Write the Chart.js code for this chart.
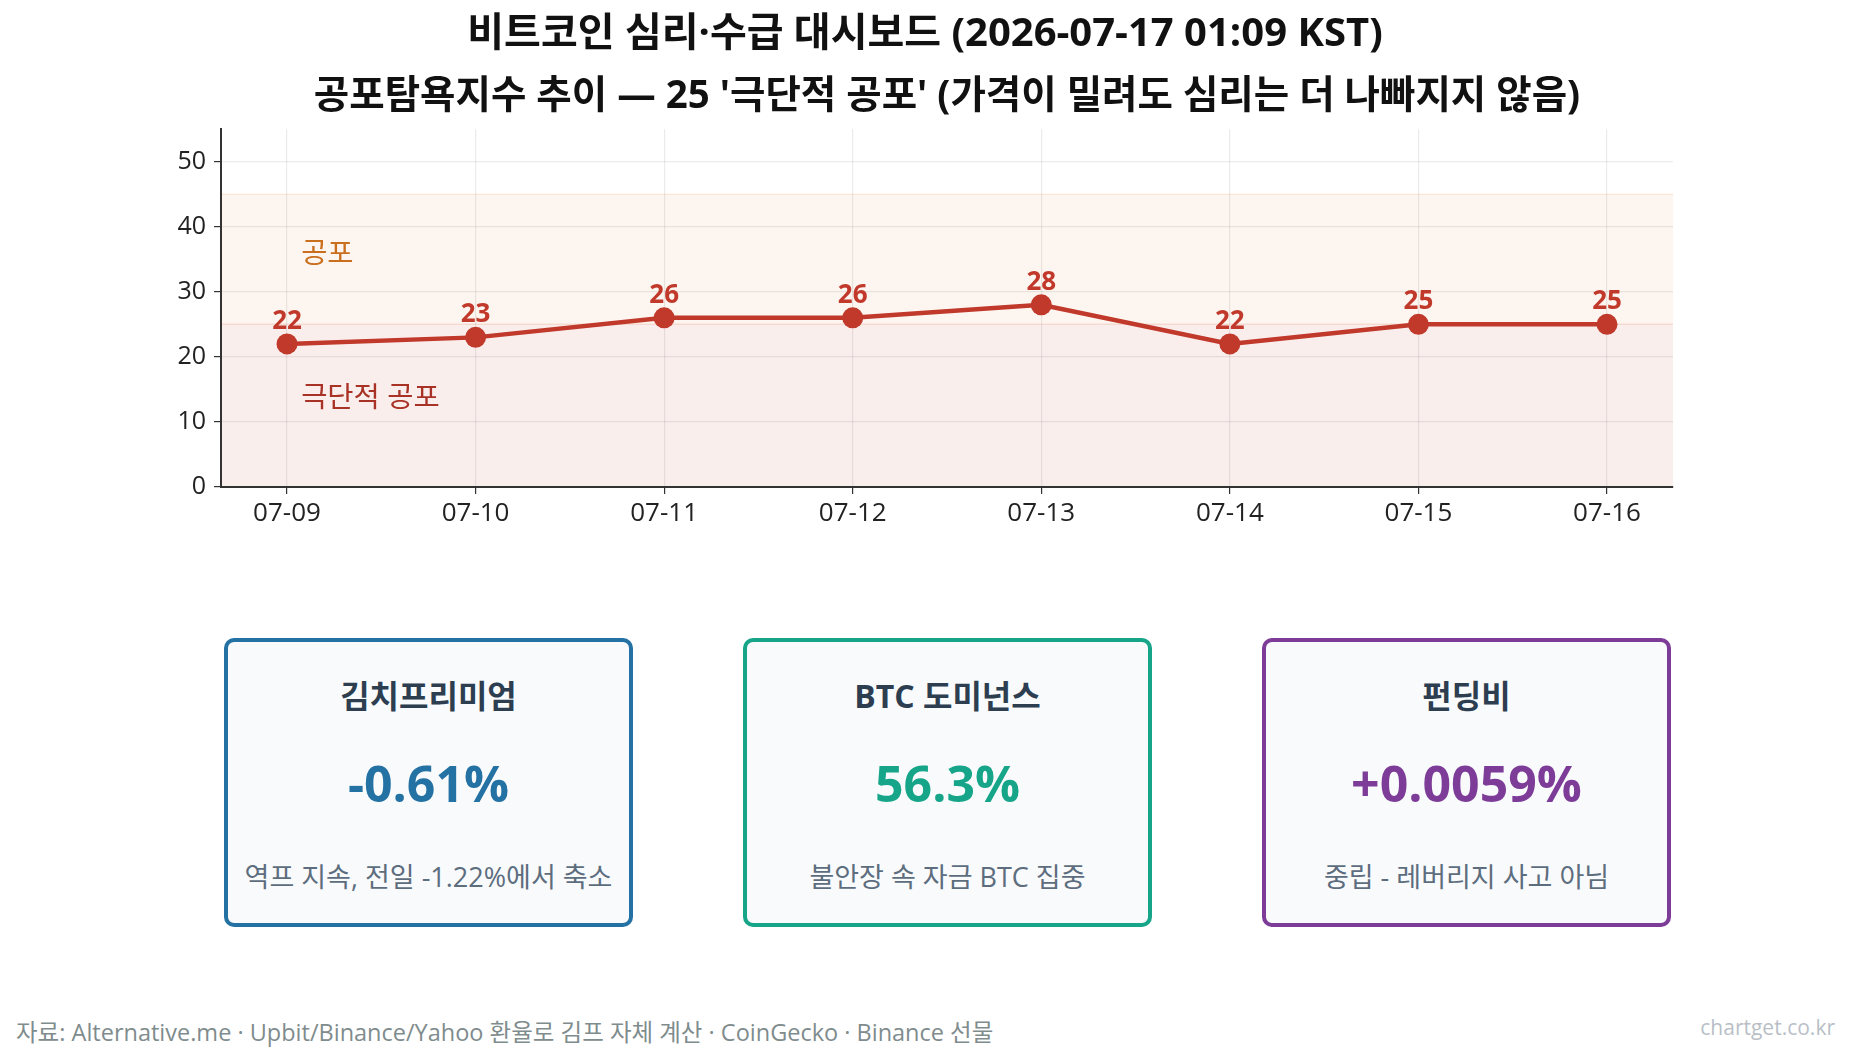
<!DOCTYPE html>
<html lang="ko">
<head>
<meta charset="utf-8">
<script src="https://cdn.jsdelivr.net/npm/chart.js@4.4.1/dist/chart.umd.min.js"></script>
<style>
    body {
        margin: 0;
        width: 1850px;
        height: 1061px;
        background: #fff;
        position: relative;
        overflow: hidden;
        font-family: 'Open Sans', 'Noto Sans CJK KR', sans-serif;
    }
    #chartWrap { position: absolute; left: 0; top: 0; width: 1850px; height: 540px; }
    .card {
        position: absolute;
        top: 638px;
        width: 409px;
        height: 289px;
        box-sizing: border-box;
        border: 4px solid;
        border-radius: 10px;
        background: #f8fafc;
        text-align: center;
    }
    .card div { position: absolute; left: 0; right: 0; white-space: nowrap; }
    .card .name { top: 34px; line-height: 40px; font-size: 32px; font-weight: bold; color: #2c3e50; }
    .card .value { top: 111px; line-height: 60px; font-size: 50px; font-weight: bold; }
    .card .note { top: 219px; line-height: 32px; font-size: 27px; color: #5d6d7e; }
    #source { position: absolute; left: 16px; top: 1016px; line-height: 32px; font-size: 23.5px; color: #7f8c8d; white-space: nowrap; }
    #brand { position: absolute; right: 15px; top: 1012px; line-height: 30px; font-size: 21px; color: #b9bfc7; }
</style>
</head>
<body>
<div id="chartWrap"><canvas id="fgiChart" width="1850" height="540"></canvas></div>

<div class="card" style="left:224px;border-color:#2471a3">
    <div class="name">김치프리미엄</div>
    <div class="value" style="color:#2471a3">-0.61%</div>
    <div class="note">역프 지속, 전일 -1.22%에서 축소</div>
</div>
<div class="card" style="left:743px;border-color:#17a589">
    <div class="name">BTC 도미넌스</div>
    <div class="value" style="color:#17a589">56.3%</div>
    <div class="note">불안장 속 자금 BTC 집중</div>
</div>
<div class="card" style="left:1262px;border-color:#7d3c98">
    <div class="name">펀딩비</div>
    <div class="value" style="color:#7d3c98">+0.0059%</div>
    <div class="note">중립 - 레버리지 사고 아님</div>
</div>

<div id="source">자료: Alternative.me · Upbit/Binance/Yahoo 환율로 김프 자체 계산 · CoinGecko · Binance 선물</div>
<div id="brand">chartget.co.kr</div>

<script>
// 데이터
const dateLabels = ['07-09', '07-10', '07-11', '07-12', '07-13', '07-14', '07-15', '07-16'];
const fgiValues = [22, 23, 26, 26, 28, 22, 25, 25];
const yTickValues = [0, 10, 20, 30, 40, 50];
const extremeFearRange = [0, 25];
const fearRange = [25, 45];

const FONT = "'Open Sans', 'Noto Sans CJK KR', sans-serif";
Chart.defaults.font.family = FONT;

// 구간 배경 + 구간 이름
const zonePlugin = {
    id: 'zones',
    beforeDraw(chart) {
        const { ctx, chartArea: a, scales: { y } } = chart;
        ctx.save();
        var y0 = y.getPixelForValue(extremeFearRange[0]);
        var y25 = y.getPixelForValue(extremeFearRange[1]);
        var y45 = y.getPixelForValue(fearRange[1]);
        ctx.fillStyle = 'rgba(192, 57, 43, 0.085)';
        ctx.fillRect(a.left, y25, a.width, y0 - y25);
        ctx.fillStyle = 'rgba(230, 126, 34, 0.075)';
        ctx.fillRect(a.left, y45, a.width, y25 - y45);
        ctx.lineWidth = 1.5;
        ctx.strokeStyle = 'rgba(230, 126, 34, 0.12)';
        ctx.beginPath(); ctx.moveTo(a.left, y45); ctx.lineTo(a.right, y45); ctx.stroke();
        ctx.strokeStyle = 'rgba(210, 90, 40, 0.15)';
        ctx.beginPath(); ctx.moveTo(a.left, y25); ctx.lineTo(a.right, y25); ctx.stroke();
        ctx.restore();
    },
    beforeDatasetsDraw(chart) {
        const { ctx, scales: { x, y } } = chart;
        ctx.save();
        ctx.font = '28.5px ' + FONT;
        ctx.textAlign = 'left';
        ctx.textBaseline = 'middle';
        ctx.fillStyle = '#ca6f1e';
        ctx.fillText('공포', x.getPixelForValue(0.075), y.getPixelForValue(35.7));
        ctx.fillStyle = '#a93226';
        ctx.fillText('극단적 공포', x.getPixelForValue(0.075), y.getPixelForValue(13.5));
        ctx.restore();
    }
};

// 점 위 값 표시
const valueLabelPlugin = {
    id: 'valueLabels',
    afterDatasetsDraw(chart) {
        const ctx = chart.ctx;
        const meta = chart.getDatasetMeta(0);
        ctx.save();
        ctx.font = 'bold 26px ' + FONT;
        ctx.fillStyle = '#c0392b';
        ctx.textAlign = 'center';
        ctx.textBaseline = 'alphabetic';
        meta.data.forEach(function (pt, i) {
            ctx.fillText(String(fgiValues[i]), pt.x, pt.y - 15);
        });
        ctx.restore();
    }
};

const gridCfg = {
    color: 'rgba(0, 0, 0, 0.08)',
    lineWidth: 1.2,
    tickColor: '#333',
    tickLength: 7
};

new Chart(document.getElementById('fgiChart').getContext('2d'), {
    type: 'line',
    data: {
        datasets: [{
            label: '공포탐욕지수',
            data: fgiValues.map(function (v, i) { return { x: i, y: v }; }),
            borderColor: '#c0392b',
            backgroundColor: '#c0392b',
            borderWidth: 4.5,
            tension: 0,
            pointRadius: 10.5,
            pointBorderWidth: 0,
            pointBackgroundColor: '#c0392b',
            clip: false
        }]
    },
    options: {
        responsive: false,
        animation: false,
        layout: { padding: { left: 177, right: 177, top: 0, bottom: 0 } },
        plugins: {
            legend: { display: false },
            tooltip: { enabled: false },
            title: {
                display: true,
                text: '비트코인 심리·수급 대시보드 (2026-07-17 01:09 KST)',
                color: '#111',
                font: { size: 40, weight: 'bold' },
                padding: { top: 11, bottom: 0 }
            },
            subtitle: {
                display: true,
                fullSize: false,
                text: "공포탐욕지수 추이 — 25 '극단적 공포' (가격이 밀려도 심리는 더 나빠지지 않음)",
                color: '#111',
                font: { size: 38.5, weight: 'bold' },
                padding: { top: 15, bottom: 9 }
            }
        },
        scales: {
            x: {
                type: 'linear',
                min: -0.35,
                max: 7.35,
                afterBuildTicks: function (s) { s.ticks = dateLabels.map(function (_, i) { return { value: i }; }); },
                afterFit: function (s) { s.height = 53; },
                ticks: {
                    callback: function (v) { return dateLabels[v]; },
                    font: { size: 26 },
                    color: '#222',
                    padding: 4,
                    maxRotation: 0,
                    autoSkip: false
                },
                grid: gridCfg,
                border: { color: '#333', width: 2 }
            },
            y: {
                min: 0,
                max: 55,
                afterBuildTicks: function (s) { s.ticks = yTickValues.map(function (v) { return { value: v }; }); },
                afterFit: function (s) { s.width = 44; },
                ticks: {
                    font: { size: 25 },
                    color: '#222',
                    padding: 8
                },
                grid: gridCfg,
                border: { color: '#333', width: 2 }
            }
        }
    },
    plugins: [zonePlugin, valueLabelPlugin]
});
</script>
</body>
</html>
